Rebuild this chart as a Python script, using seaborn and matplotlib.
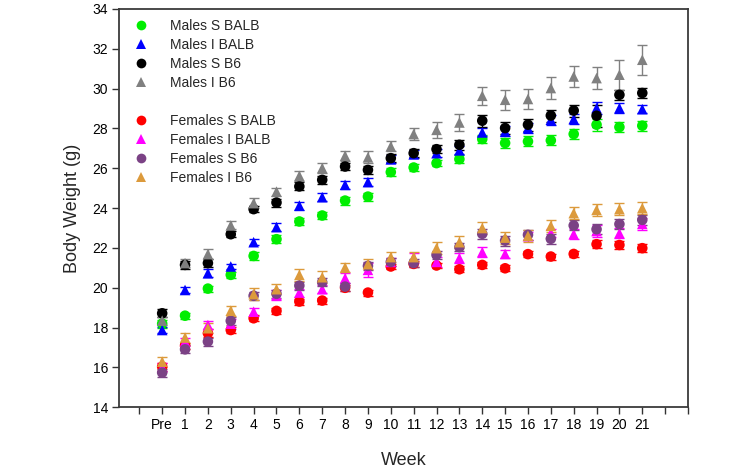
import numpy as np
import pandas as pd
import seaborn as sns
import matplotlib
matplotlib.use("Agg")
from matplotlib import pyplot as plt
from matplotlib.lines import Line2D

# x tick labels (Pre + weeks 1..21)
weeks = ["Pre"] + [str(i) for i in range(1, 22)]

# mean body weight (g)
ms_balb = [18.2, 18.60, 19.96, 20.65, 21.60, 22.44, 23.33, 23.63, 24.38, 24.58, 25.81,
           26.04, 26.26, 26.46, 27.47, 27.27, 27.35, 27.40, 27.72, 28.19, 28.07, 28.14]
mi_balb = [17.88, 19.89, 20.73, 21.07, 22.29, 23.05, 24.13, 24.55, 25.17, 25.31, 26.45,
           26.70, 26.76, 26.90, 27.80, 27.85, 28.02, 28.44, 28.47, 29.02, 29.02, 28.97]
ms_b6 = [18.72, 21.15, 21.24, 22.69, 23.95, 24.28, 25.09, 25.42, 26.09, 25.92, 26.51,
         26.76, 26.96, 27.18, 28.39, 28.02, 28.19, 28.65, 28.90, 28.64, 29.69, 29.78]
mi_b6 = [18.35, 21.24, 21.69, 23.13, 24.25, 24.83, 25.62, 26.01, 26.63, 26.55, 27.10,
         27.72, 27.93, 28.30, 29.64, 29.44, 29.48, 30.03, 30.61, 30.53, 30.70, 31.45]
fs_balb = [16.04, 17.10, 17.72, 17.88, 18.47, 18.84, 19.31, 19.36, 20.00, 19.76, 21.07,
           21.20, 21.12, 20.93, 21.15, 20.98, 21.69, 21.57, 21.70, 22.19, 22.15, 21.99]
fi_balb = [16.00, 17.30, 18.13, 18.20, 18.80, 19.64, 19.76, 19.93, 20.48, 20.90, 21.30,
           21.50, 21.30, 21.49, 21.79, 21.70, 22.60, 22.74, 22.69, 22.85, 22.74, 23.21]
fs_b6 = [15.74, 16.91, 17.30, 18.34, 19.60, 19.70, 20.11, 20.28, 20.06, 21.10, 21.30,
         21.24, 21.65, 22.04, 22.71, 22.37, 22.66, 22.46, 23.13, 22.94, 23.20, 23.41]
fi_b6 = [16.29, 17.50, 17.97, 18.85, 19.68, 19.93, 20.65, 20.53, 21.02, 21.19, 21.54,
         21.54, 21.99, 22.29, 23.00, 22.52, 22.61, 23.11, 23.75, 23.91, 23.95, 24.00]

# SEM (g)
ms_balb_err = [0.2, 0.15, 0.15, 0.15, 0.2, 0.2, 0.2, 0.2, 0.2, 0.2, 0.2,
               0.2, 0.15, 0.2, 0.2, 0.25, 0.25, 0.25, 0.25, 0.3, 0.25, 0.25]
mi_balb_err = [0.15, 0.15, 0.2, 0.15, 0.15, 0.2, 0.2, 0.2, 0.2, 0.2, 0.2,
               0.2, 0.2, 0.2, 0.2, 0.25, 0.25, 0.25, 0.25, 0.3, 0.25, 0.2]
ms_b6_err = [0.2, 0.2, 0.2, 0.15, 0.15, 0.2, 0.2, 0.2, 0.2, 0.2, 0.2,
             0.2, 0.2, 0.25, 0.3, 0.3, 0.3, 0.3, 0.3, 0.55, 0.25, 0.25]
mi_b6_err = [0.2, 0.2, 0.25, 0.2, 0.25, 0.2, 0.25, 0.25, 0.25, 0.3, 0.25,
             0.3, 0.4, 0.45, 0.45, 0.5, 0.5, 0.55, 0.55, 0.55, 0.75, 0.75]
fs_balb_err = [0.2, 0.15, 0.2, 0.15, 0.15, 0.15, 0.15, 0.15, 0.15, 0.15, 0.15,
               0.15, 0.15, 0.15, 0.15, 0.15, 0.15, 0.15, 0.15, 0.2, 0.2, 0.2]
fi_balb_err = [0.2, 0.2, 0.2, 0.25, 0.2, 0.25, 0.2, 0.2, 0.25, 0.35, 0.2,
               0.25, 0.25, 0.25, 0.25, 0.2, 0.2, 0.2, 0.25, 0.3, 0.25, 0.3]
fs_b6_err = [0.2, 0.2, 0.2, 0.2, 0.2, 0.2, 0.2, 0.2, 0.2, 0.2, 0.2,
             0.2, 0.2, 0.2, 0.25, 0.25, 0.25, 0.25, 0.25, 0.25, 0.25, 0.25]
fi_b6_err = [0.25, 0.25, 0.25, 0.25, 0.3, 0.25, 0.3, 0.3, 0.25, 0.25, 0.25,
             0.25, 0.3, 0.3, 0.3, 0.3, 0.3, 0.3, 0.3, 0.3, 0.3, 0.3]

groups = ["Males S BALB", "Males I BALB", "Males S B6", "Males I B6",
          "Females S BALB", "Females I BALB", "Females S B6", "Females I B6"]
means = [ms_balb, mi_balb, ms_b6, mi_b6, fs_balb, fi_balb, fs_b6, fi_b6]
errs = [ms_balb_err, mi_balb_err, ms_b6_err, mi_b6_err,
        fs_balb_err, fi_balb_err, fs_b6_err, fi_b6_err]
colors = ["#00ee00", "#0000ff", "#000000", "#808080",
          "#ff0000", "#ff00ff", "#7b4285", "#dc9a3c"]
markers = ["o", "^", "o", "^", "o", "^", "o", "^"]

rows = []
for g, m, e in zip(groups, means, errs):
    for i in range(len(weeks)):
        rows.append({"group": g, "x": i, "weight": m[i], "sem": e[i]})
df = pd.DataFrame(rows)

sns.set_theme(style="white")
plt.rcParams["font.family"] = ["Liberation Sans", "DejaVu Sans"]

fig = plt.figure(figsize=(7.45, 4.70), dpi=100)
ax = fig.add_axes([0.160, 0.1334, 0.7635, 0.8475])

for g, c in zip(groups, colors):
    d = df[df["group"] == g]
    ax.errorbar(d["x"], d["weight"], yerr=d["sem"], fmt="none", ecolor=c,
                elinewidth=1.0, capsize=3.5, capthick=1.0, zorder=2)

sns.scatterplot(data=df, x="x", y="weight", hue="group", style="group",
                hue_order=groups, style_order=groups,
                palette=dict(zip(groups, colors)), markers=dict(zip(groups, markers)),
                s=58, linewidth=0, legend=False, ax=ax, zorder=3)

ax.set_xlim(-1.88, 23)
ax.set_ylim(14, 34)
ax.set_yticks(np.arange(14, 35, 2))
ax.set_xticks(np.arange(-1, 24))
ax.set_xticklabels([""] + weeks + ["", ""])
ax.tick_params(axis="both", direction="out", length=5, width=1, colors="#333333",
               labelsize=10, labelcolor="black", bottom=True, left=True, pad=3)
for sp in ax.spines.values():
    sp.set_color("#3a3a3a")
    sp.set_linewidth(1.3)

ax.set_xlabel("Week", fontsize=13)
ax.set_ylabel("Body Weight (g)", fontsize=13)
ax.yaxis.set_label_coords(-0.068, 0.5)
ax.xaxis.set_label_coords(0.5, -0.112)

handles = []
labels = []
for i, (g, c, mk) in enumerate(zip(groups, colors, markers)):
    if i == 4:
        handles.append(Line2D([], [], linestyle="none", marker=""))
        labels.append("")
    handles.append(Line2D([], [], linestyle="none", marker=mk, color=c,
                          markersize=7, markeredgewidth=0))
    labels.append(g)
ax.legend(handles, labels, loc="upper left", bbox_to_anchor=(0.014, 0.993),
          frameon=False, fontsize=10, handlelength=1.0, handletextpad=1.6,
          labelspacing=0.36, borderaxespad=0.3, borderpad=0.2)

fig.savefig("out.png", dpi=100)
